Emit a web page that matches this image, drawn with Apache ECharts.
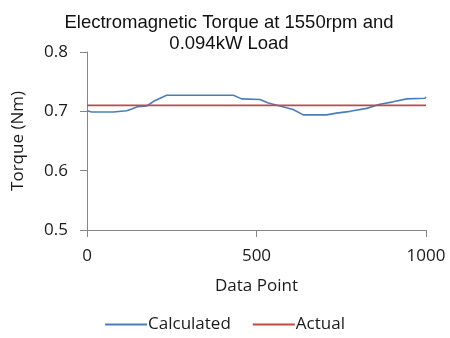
<!DOCTYPE html>
<html>
<head>
<meta charset="utf-8">
<script src="https://cdn.jsdelivr.net/npm/echarts@6/dist/echarts.min.js"></script>
<style>
html,body{margin:0;padding:0;background:#fff}
#chart{width:450px;height:338px}
</style>
</head>
<body>
<div id="chart"></div>
<script>
// data
const calcX = [0, 14, 78, 83, 117, 132, 151, 176, 200, 235, 432, 456, 510, 535, 569, 608, 638, 707, 736, 776, 825, 864, 903, 943, 997, 1000]
const calcY = [0.701, 0.699, 0.699, 0.701, 0.701, 0.704, 0.708, 0.709, 0.718, 0.727, 0.727, 0.721, 0.720, 0.714, 0.709, 0.703, 0.694, 0.694, 0.697, 0.700, 0.705, 0.712, 0.716, 0.721, 0.722, 0.724]
const actualX = [0, 1000]
const actualY = [0.71, 0.71]

const font = "Open Sans"
const axisGray = "#868686"

const chart = echarts.init(document.getElementById("chart"))
chart.setOption({
	animation: false,
	title: {
		text: "Electromagnetic Torque at 1550rpm and\n0.094kW Load",
		left: 224,
		top: 7,
		textAlign: "center",
		textStyle: {
			fontFamily: "Liberation Sans",
			fontWeight: "normal",
			fontSize: 18.5,
			lineHeight: 21,
			color: "#111"
		}
	},
	legend: {
		bottom: 0,
		left: "center",
		itemWidth: 42,
		itemHeight: 2,
		itemGap: 22,
		icon: "rect",
		textStyle: {fontFamily: font, fontSize: 17, color: "#1a1a1a", padding: [0, 0, 0, -4]},
		data: ["Calculated", "Actual"]
	},
	grid: {left: 87, right: 24, top: 52, bottom: 108},
	xAxis: {
		type: "value",
		min: 0,
		max: 1000,
		interval: 500,
		name: "Data Point",
		nameLocation: "middle",
		nameGap: 48,
		nameTextStyle: {fontFamily: font, fontSize: 17, color: "#1a1a1a"},
		axisLine: {show: true, lineStyle: {color: axisGray}},
		axisTick: {show: true, length: 7, lineStyle: {color: axisGray}},
		axisLabel: {fontFamily: font, fontSize: 17, color: "#1a1a1a", margin: 18, formatter: v => String(v)},
		splitLine: {show: false}
	},
	yAxis: {
		type: "value",
		min: 0.5,
		max: 0.8,
		interval: 0.1,
		name: "Torque (Nm)",
		nameLocation: "middle",
		nameGap: 60,
		nameTextStyle: {fontFamily: font, fontSize: 17, color: "#1a1a1a"},
		axisLine: {show: true, lineStyle: {color: axisGray}},
		axisTick: {show: true, length: 7, lineStyle: {color: axisGray}},
		axisLabel: {fontFamily: font, fontSize: 17, color: "#1a1a1a", margin: 19, formatter: v => v.toFixed(1)},
		splitLine: {show: false}
	},
	series: [
		{
			name: "Calculated",
			type: "line",
			showSymbol: false,
			symbol: "none",
			lineStyle: {color: "#4a7ebb", width: 1.6},
			itemStyle: {color: "#4a7ebb"},
			data: calcX.map((x, i) => [x, calcY[i]])
		},
		{
			name: "Actual",
			type: "line",
			showSymbol: false,
			symbol: "none",
			lineStyle: {color: "#be4b48", width: 1.6},
			itemStyle: {color: "#be4b48"},
			data: actualX.map((x, i) => [x, actualY[i]])
		}
	]
})
</script>
</body>
</html>
